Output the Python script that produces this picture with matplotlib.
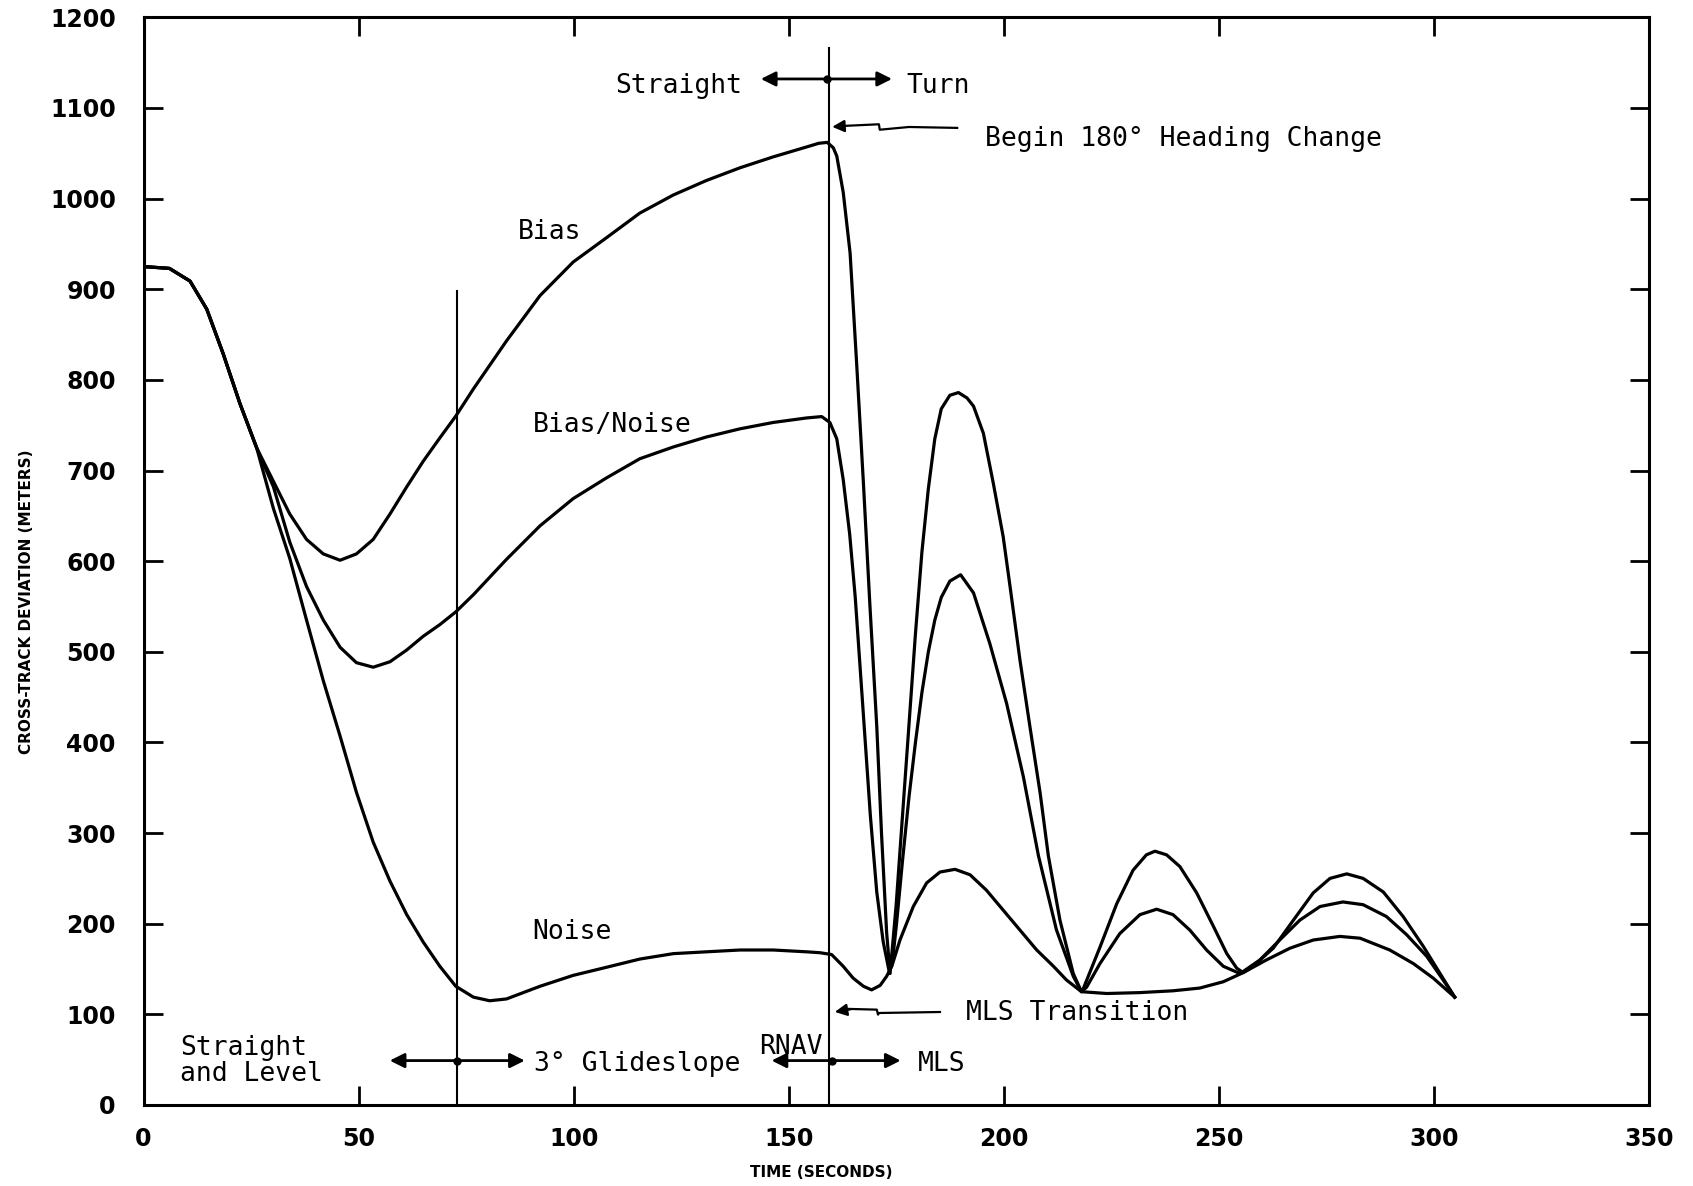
import matplotlib.pyplot as plt

# time (s) and cross-track deviation (m)
bias_t = [0, 6, 10.8, 14.7, 18.5, 22.4, 26.3, 30.2, 34, 37.9, 41.8, 45.7, 49.5, 53.4, 57.3, 61.2, 65, 68.9,
          72.6, 76.7, 84.4, 92.2, 99.9, 107.7, 115.4, 123.2, 130.9, 138.7, 146.4, 154.2, 157, 159,
          160.4, 161.2, 162.7, 164.3, 165.8, 167.4, 168.9, 170.5, 171.6, 172.8, 173.6, 175, 176.5,
          178, 179.5, 181, 182.5, 184, 185.5, 187.5, 189.5, 191.5, 193, 195.3, 197.6, 199.9, 201.5,
          203.8, 206.1, 208.5, 210.4, 213.1, 216.2, 218.1, 218.5, 222.4, 226.3, 230.1, 233.2, 235.2, 237.9,
          241, 244.9, 248.8, 251.9, 254.2, 255.7, 258, 262.7, 267.4, 272, 275.9, 279.8, 283.6, 288.3, 292.9,
          297.6, 301.5, 304.9]
bias = [925, 923, 909, 878, 829, 774, 725, 688, 652, 624, 608, 601, 608, 624, 652, 682, 710, 736,
        760, 790, 843, 893, 930, 957, 984, 1004, 1020, 1034, 1046, 1057, 1061, 1062,
        1056, 1047, 1007, 940, 820, 686, 552, 418, 300, 190, 145, 220, 320,
        420, 520, 610, 680, 735, 768, 783, 786, 780, 771, 741, 686, 627, 572,
        491, 418, 344, 275, 204, 145, 125, 128, 174, 222, 259, 276, 280, 276,
        263, 234, 197, 167, 151, 146, 153, 173, 204, 234, 250, 255, 250, 235, 208,
        175, 145, 119]

bn_t = [0, 6, 10.8, 14.7, 18.5, 22.4, 26.3, 30.2, 34, 37.9, 41.8, 45.7, 49.5, 53.4, 57.3, 61.2, 65, 68.9,
        72.6, 76.7, 84.4, 92.2, 99.9, 107.7, 115.4, 123.2, 130.9, 138.7, 146.4, 154.2, 157.7,
        159.6, 161.2, 162.7, 164.2, 165.5, 167.4, 169, 170.5, 172, 173.4, 174.3, 175.1, 176.5, 178, 179.5,
        181, 182.5, 184, 185.5, 187.5, 190, 193, 196.8, 200.7, 204.6, 208.1, 212.3, 216.2, 218.1, 219.3,
        222.4, 227, 231.7, 235.6, 239.4, 243.3, 247.2, 251.1, 255, 259.6, 264.2, 268.9, 273.6, 278.9,
        283.6, 289, 293.7, 298.4, 302.2, 304.9]
bias_noise = [925, 923, 909, 878, 829, 774, 725, 682, 621, 572, 535, 505, 488, 483, 489, 502, 517, 530,
              544, 563, 602, 639, 669, 692, 713, 726, 737, 746, 753, 758, 759.5,
              753, 735, 690, 630, 560, 430, 320, 235, 180, 147, 165, 200, 270, 340, 400,
              455, 500, 535, 560, 578, 585, 565, 509, 443, 362, 275, 193, 142, 125, 130,
              156, 189, 210, 216, 210, 193, 171, 153, 145, 160, 182, 204, 219, 224,
              221, 208, 188, 164, 138, 119]

noise_t = [0, 6, 10.8, 14.7, 18.5, 22.4, 26.3, 30.2, 34, 37.9, 41.8, 45.7, 49.5, 53.4, 57.3, 61.2, 65,
           68.9, 72.6, 76.7, 80.5, 84.4, 92.2, 99.9, 107.7, 115.4, 123.2, 130.9, 138.7, 146.4, 154.2,
           157.3, 160, 162.7, 165, 167.4, 169.3, 171.3, 172.8, 174, 175.9, 179, 182.1, 185.2, 188.7,
           192.2, 196, 199.9, 203.8, 207.7, 211.6, 214.6, 218.1, 224, 231.7, 239.4, 245.6, 251.1, 255.7,
           261.1, 266.6, 272, 278.2, 282.9, 289.8, 295.3, 299.9, 304.9]
noise = [925, 923, 909, 878, 829, 774, 725, 658, 603, 535, 468, 407, 345, 290, 247, 210, 180,
         153, 131, 119, 115, 117, 131, 143, 152, 161, 167, 169, 171, 171, 169,
         168, 166, 153, 140, 131, 127, 132, 142, 153, 182, 219, 245, 257, 260,
         254, 237, 215, 193, 171, 153, 138, 125, 123, 124, 126, 129, 136, 146,
         160, 173, 182, 186, 184, 171, 156, 140, 119]

glide_x = 72.9
turn_x = 159.3

mono = 'DejaVu Sans Mono'
fig = plt.figure(figsize=(16.93, 11.86), dpi=100)
ax = fig.add_axes([0.0848, 0.0683, 0.889, 0.9171])

lw = 2.3
for t, y in [(bias_t, bias), (bn_t, bias_noise), (noise_t, noise)]:
    ax.plot(t, y, color='black', lw=lw, solid_joinstyle='round')

# phase boundaries
ax.plot([glide_x, glide_x], [0, 898], color='black', lw=1.5)
ax.plot([turn_x, turn_x], [0, 1166], color='black', lw=1.5)

ax.set_xlim(0, 350)
ax.set_ylim(0, 1200)
ax.set_xticks(range(0, 351, 50))
ax.set_yticks(range(0, 1201, 100))
ax.tick_params(direction='in', length=14, width=2, top=True, right=True, pad=16,
               labelsize=17)
ax.tick_params(axis='y', pad=20)
for lab in ax.get_xticklabels() + ax.get_yticklabels():
    lab.set_fontweight('bold')
for s in ax.spines.values():
    s.set_linewidth(2.2)

ax.set_xlabel('TIME (SECONDS)', fontsize=11, fontweight='bold')
ax.xaxis.set_label_coords(0.45, -0.055)
ax.set_ylabel('CROSS-TRACK DEVIATION (METERS)', fontsize=11, fontweight='bold')
ax.yaxis.set_label_coords(-0.073, 0.463)

fs = 19
ax.text(87, 963, 'Bias', fontsize=fs, family=mono, va='center')
ax.text(90.6, 750, 'Bias/Noise', fontsize=fs, family=mono, va='center')
ax.text(90.4, 191, 'Noise', fontsize=fs, family=mono, va='center')


def two_way(x0, xl, xr, y):
    arr = dict(arrowstyle='-|>', color='black', lw=2, mutation_scale=22)
    ax.annotate('', xy=(xl, y), xytext=(x0, y), arrowprops=arr)
    ax.annotate('', xy=(xr, y), xytext=(x0, y), arrowprops=arr)
    ax.plot([x0], [y], 'o', color='black', ms=5)


# straight / turn
two_way(turn_x - 0.3, 142.9, 174.7, 1132)
ax.text(109.7, 1124, 'Straight', fontsize=fs, family=mono, va='center')
ax.text(177.3, 1124, 'Turn', fontsize=fs, family=mono, va='center')

# begin heading change leader
ax.plot([189.2, 178, 171.2, 171.0, 162.0], [1078, 1079, 1076, 1082, 1080], color='black', lw=1.6)
ax.annotate('', xy=(turn_x + 0.2, 1079), xytext=(163, 1080),
            arrowprops=dict(arrowstyle='-|>', color='black', lw=1.6, mutation_scale=18))
ax.text(195.6, 1066, 'Begin 180° Heading Change', fontsize=fs, family=mono, va='center')

# MLS transition leader
ax.plot([185.2, 171, 170.8, 170.5, 164], [102.6, 101.5, 99.7, 105.2, 106], color='black', lw=1.6)
ax.annotate('', xy=(turn_x + 0.8, 102.2), xytext=(165, 106),
            arrowprops=dict(arrowstyle='-|>', color='black', lw=1.6, mutation_scale=18))
ax.text(191.3, 101, 'MLS Transition', fontsize=fs, family=mono, va='center')

# bottom phase labels
ax.text(8.5, 49, 'Straight\nand Level', fontsize=fs, family=mono, va='center', linespacing=1.0)
two_way(glide_x, 56.6, 89.3, 49)
ax.text(90.9, 45, '3° Glideslope', fontsize=fs, family=mono, va='center')
two_way(turn_x + 0.8, 145.4, 176.7, 49)
ax.text(143.1, 64, 'RNAV', fontsize=fs, family=mono, va='center')
ax.text(180, 45, 'MLS', fontsize=fs, family=mono, va='center')

fig.savefig('out.png', dpi=100)
